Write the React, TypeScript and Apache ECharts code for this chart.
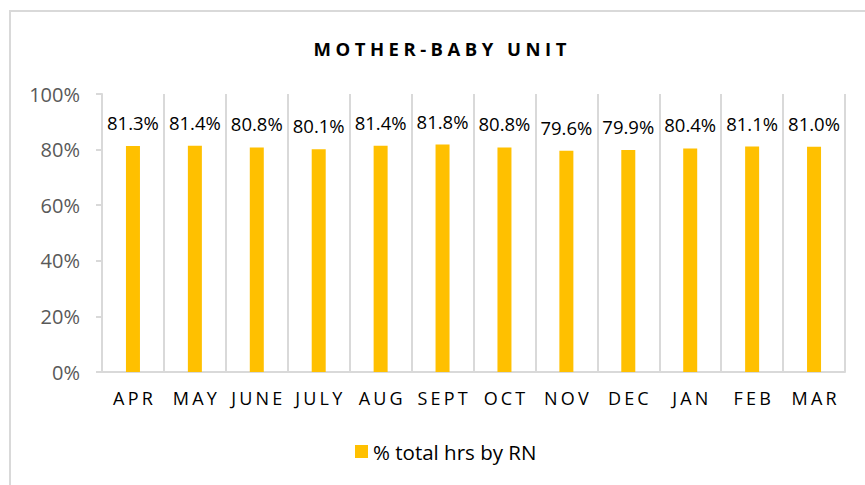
import React, { useEffect, useRef } from "react";
import * as echarts from "echarts";

const categories = ["APR", "MAY", "JUNE", "JULY", "AUG", "SEPT", "OCT", "NOV", "DEC", "JAN", "FEB", "MAR"];
const rnShare = [81.3, 81.4, 80.8, 80.1, 81.4, 81.8, 80.8, 79.6, 79.9, 80.4, 81.1, 81.0];
const yTicks = [0, 20, 40, 60, 80, 100];
const seriesName = "% total hrs by RN";
const chartTitle = "MOTHER-BABY UNIT";

export default function App() {
  const ref = useRef<HTMLDivElement>(null);
  useEffect(() => {
    if (!ref.current) return;
    const el = ref.current;
    const chart = echarts.init(el, null, { renderer: "svg" });
    const font = "Open Sans";
    const spacing = (map: Record<string, number>) => {
      el.querySelectorAll("text").forEach((t) => {
        const s = map[(t.textContent || "").trim()];
        if (s !== undefined) {
          t.setAttribute("letter-spacing", String(s));
          t.setAttribute("dx", String(s / 2));
        }
      });
    };
    const spacingMap: Record<string, number> = { [chartTitle]: 4.5 };
    categories.forEach((c) => (spacingMap[c] = 3.2));
    chart.on("finished", () => spacing(spacingMap));
    chart.setOption({
      animation: false,
      backgroundColor: "#ffffff",
      textStyle: { fontFamily: font },
      graphic: [
        {
          type: "rect",
          shape: { x: 10, y: 11, width: 870, height: 490 },
          style: { fill: "none", stroke: "#d9d9d9", lineWidth: 2 },
          silent: true,
        },
        {
          type: "text",
          x: 440,
          y: 48,
          silent: true,
          style: {
            text: chartTitle,
            align: "center",
            verticalAlign: "middle",
            fontFamily: font,
            fontSize: 18.5,
            fontWeight: "bold",
            fill: "#000000",
          },
        },
      ],
      legend: {
        bottom: 18,
        left: 350,
        itemWidth: 13,
        itemHeight: 13,
        icon: "rect",
        itemGap: 6,
        textStyle: { fontFamily: font, fontSize: 20.5, color: "#000000" },
        data: [seriesName],
      },
      grid: { left: 102, right: 20, top: 94, bottom: 113, containLabel: false },
      xAxis: {
        type: "category",
        data: categories,
        boundaryGap: true,
        axisLine: { show: true, lineStyle: { color: "#d9d9d9", width: 2 } },
        axisTick: { show: false },
        splitLine: { show: true, lineStyle: { color: "#d9d9d9", width: 2 } },
        axisLabel: { fontFamily: font, fontSize: 18, color: "#000000", margin: 17 },
      },
      yAxis: {
        type: "value",
        min: yTicks[0],
        max: yTicks[yTicks.length - 1],
        interval: yTicks[1] - yTicks[0],
        axisLine: { show: true, lineStyle: { color: "#d9d9d9", width: 2 } },
        axisTick: { show: true, length: 6, lineStyle: { color: "#d9d9d9", width: 2 } },
        splitLine: { show: false },
        axisLabel: {
          fontFamily: font,
          fontSize: 20,
          color: "#595959",
          margin: 22,
          formatter: (v: number) => v + "%",
        },
      },
      series: [
        {
          name: seriesName,
          type: "bar",
          data: rnShare,
          barWidth: 14,
          itemStyle: { color: "#FFC000" },
          label: {
            show: true,
            position: "top",
            distance: 14,
            fontFamily: font,
            fontSize: 18.5,
            color: "#000000",
            formatter: (p: any) => Number(p.value).toFixed(1) + "%",
          },
        },
      ],
    });
    spacing(spacingMap);
    return () => chart.dispose();
  }, []);
  return (
    <div
      ref={ref}
      style={{ position: "fixed", left: 0, top: 0, width: 865, height: 485 }}
    />
  );
}
